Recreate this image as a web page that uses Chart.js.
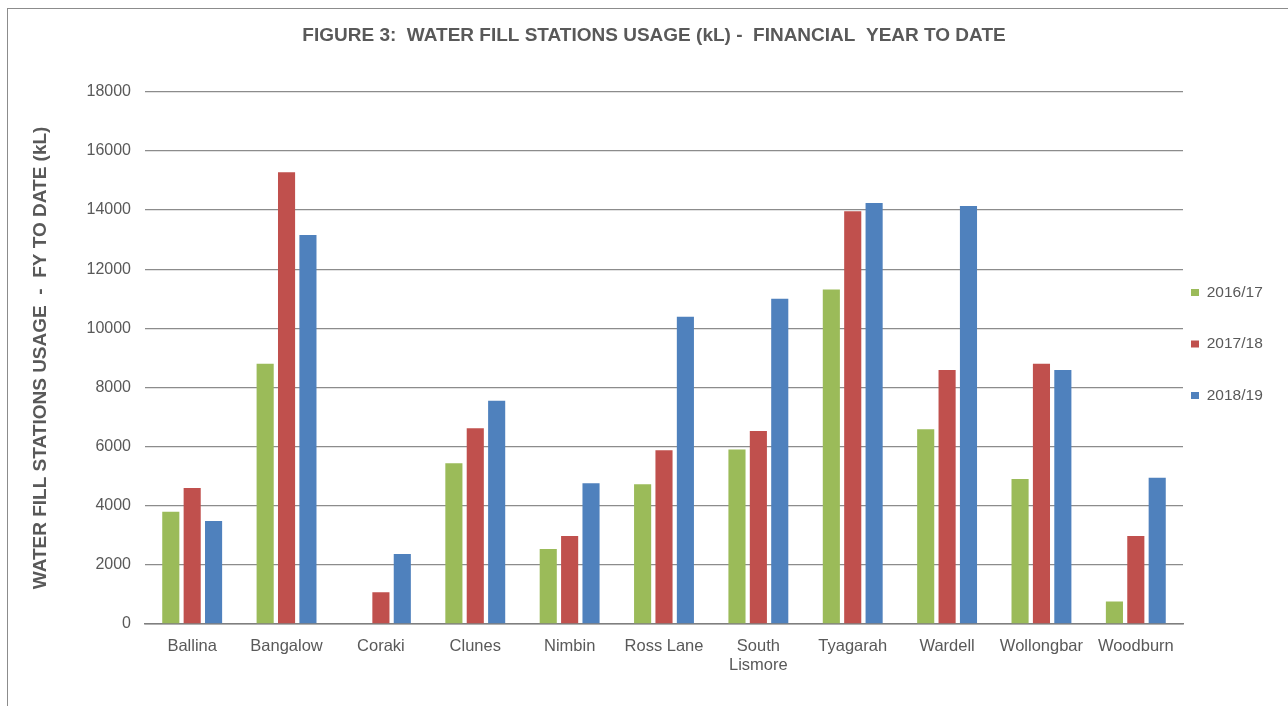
<!DOCTYPE html>
<html>
<head>
<meta charset="utf-8">
<title>Water fill stations usage</title>
<script src="https://cdn.jsdelivr.net/npm/chart.js@4.4.1/dist/chart.umd.min.js"></script>
<style>
  html, body { margin: 0; padding: 0; background: #fff; }
  #wrap { width: 1288px; height: 706px; }
</style>
</head>
<body>
<div id="wrap"><canvas id="grafico" width="1288" height="706"></canvas></div>
<script>
// categorias (estaciones)
const estaciones = ["Ballina", "Bangalow", "Coraki", "Clunes", "Nimbin", "Ross Lane",
  ["South", "Lismore"], "Tyagarah", "Wardell", "Wollongbar", "Woodburn"];

// valores por año (kL)
const uso1617 = [3800, 8800, 0, 5440, 2540, 4730, 5900, 11310, 6590, 4900, 760];
const uso1718 = [4600, 15280, 1070, 6620, 2980, 5880, 6530, 13960, 8590, 8800, 2980];
const uso1819 = [3480, 13160, 2370, 7550, 4760, 10390, 11000, 14240, 14140, 8590, 4950];

const anios = ["2016/17", "2017/18", "2018/19"];
const colores = ["#9BBB59", "#C0504D", "#4F81BD"];

const fuente = 'Arial, "Liberation Sans", sans-serif';
const gris = "#595959";

// marco del grafico y fondo blanco
const marco = {
  id: "marco",
  beforeDraw(chart) {
    const c = chart.ctx;
    c.save();
    c.fillStyle = "#fff";
    c.fillRect(0, 0, chart.width, chart.height);
    c.strokeStyle = "#8c8c8c";
    c.lineWidth = 1;
    c.strokeRect(7.5, 8.5, 1400, 800);
    c.restore();
  }
};

// mueve la leyenda junto al area del grafico
const moverLeyenda = {
  id: "moverLeyenda",
  afterLayout(chart) {
    const lg = chart.legend;
    lg.left -= 28;
    lg.top -= 14; lg.bottom -= 14;
  }
};

const ctx = document.getElementById("grafico").getContext("2d");
const chart = new Chart(ctx, {
  type: "bar",
  data: {
    labels: estaciones,
    datasets: [
      { label: anios[0], data: uso1617, backgroundColor: colores[0] },
      { label: anios[1], data: uso1718, backgroundColor: colores[1] },
      { label: anios[2], data: uso1819, backgroundColor: colores[2] }
    ]
  },
  options: {
    responsive: false,
    animation: false,
    datasets: {
      bar: { categoryPercentage: 0.68, barPercentage: 0.8 }
    },
    layout: { padding: { left: 20, right: 0, top: 0, bottom: 0 } },
    plugins: {
      title: {
        display: true,
        text: "FIGURE 3:  WATER FILL STATIONS USAGE (kL) -  FINANCIAL  YEAR TO DATE",
        color: gris,
        font: { family: fuente, size: 19, weight: "bold" },
        padding: { top: 24, bottom: 45 }
      },
      legend: {
        position: "right",
        fullSize: false,
        maxWidth: 105,
        labels: {
          color: gris,
          font: { family: fuente, size: 15.5 },
          boxWidth: 8,
          boxHeight: 7,
          padding: 36
        }
      },
      tooltip: { enabled: false }
    },
    scales: {
      x: {
        grid: { display: false },
        border: { display: true, color: "#7f7f7f", width: 1.5 },
        ticks: { color: gris, font: { family: fuente, size: 16.5, lineHeight: 1.15 }, padding: 5, maxRotation: 0, autoSkip: false },
        afterFit(scale) { scale.height = 82; }
      },
      y: {
        min: 0,
        max: 18000,
        ticks: {
          stepSize: 2000,
          color: gris,
          font: { family: fuente, size: 16 },
          padding: 14,
          callback: (v) => String(v)
        },
        grid: { color: "#8c8c8c", lineWidth: 1.3, drawTicks: false },
        border: { display: false },
        title: {
          display: true,
          text: "WATER FILL STATIONS USAGE  -  FY TO DATE (kL)",
          color: gris,
          font: { family: fuente, size: 19, weight: "bold" },
          padding: { top: 9, bottom: 0 }
        },
        afterFit(scale) { scale.width = 125; }
      }
    }
  },
  plugins: [marco, moverLeyenda]
});
</script>
</body>
</html>
